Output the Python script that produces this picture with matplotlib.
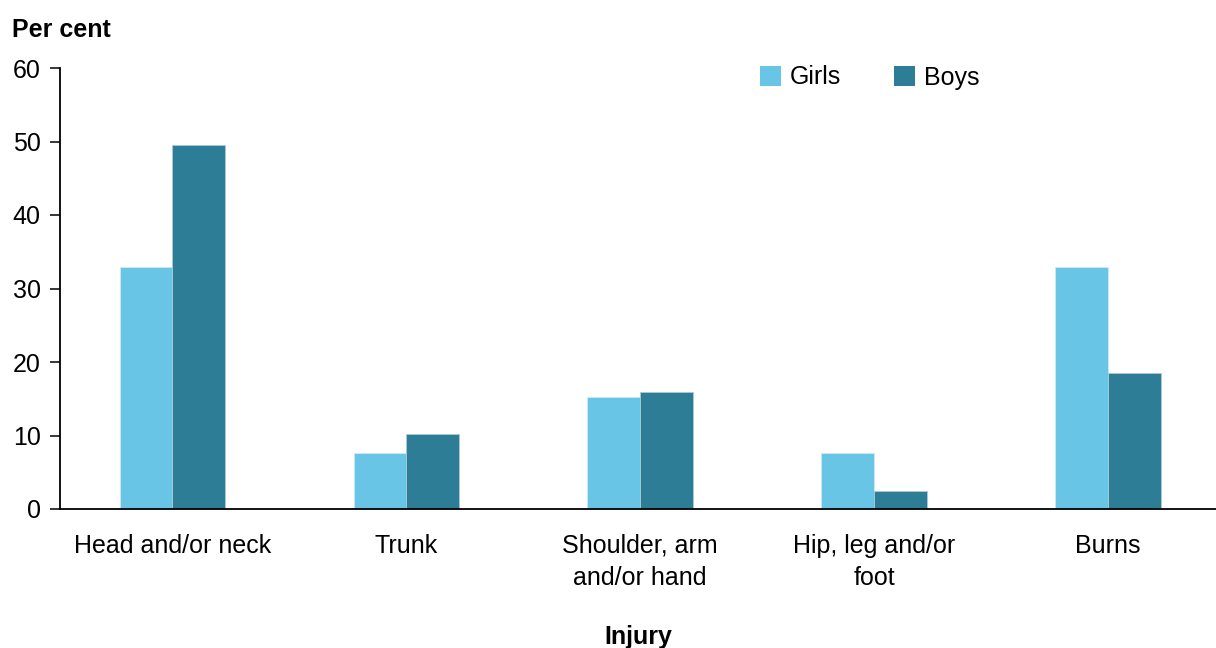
import matplotlib
matplotlib.use("Agg")
import matplotlib.pyplot as plt
import numpy as np
from matplotlib.patches import Patch

plt.rcParams['font.family'] = ['Liberation Sans', 'DejaVu Sans']

categories = ["Head and/or neck", "Trunk", "Shoulder, arm\nand/or hand", "Hip, leg and/or\nfoot", "Burns"]
girls = [32.9, 7.6, 15.2, 7.6, 32.9]
boys = [49.5, 10.2, 15.9, 2.4, 18.5]
series_names = ["Girls", "Boys"]
colors = ["#68C5E6", "#2C7D95"]
yticks = [0, 10, 20, 30, 40, 50, 60]

FS = 18

fig = plt.figure(figsize=(12.16, 6.48), dpi=100)
ax = fig.add_axes([60/1216, 1-509/648, 1-60/1216, (509-68)/648])

x = np.arange(len(categories))
w = 0.226
ax.bar(x - w/2, girls, width=w, color=colors[0], edgecolor="#CDEBF5", linewidth=0.6)
ax.bar(x + w/2, boys, width=w, color=colors[1], edgecolor="#A9CBD6", linewidth=0.6)

ax.set_xlim(-0.481, 4.462)
ax.set_ylim(0, 60)
ax.set_yticks(yticks)
ax.set_yticklabels([str(t) for t in yticks], fontsize=FS)
ax.set_xticks(x)
ax.set_xticklabels(categories, fontsize=FS, linespacing=1.4)
ax.tick_params(axis='x', length=0, pad=18)
ax.tick_params(axis='y', length=7, width=1.1, pad=7)
for s in ["top", "right"]:
    ax.spines[s].set_visible(False)
for s in ["left", "bottom"]:
    ax.spines[s].set_linewidth(1.3)
    ax.spines[s].set_color("black")

fig.text(12/1216, 1-30/648, "Per cent", fontsize=FS, fontweight="bold", va="center", ha="left")
fig.text((60+1216)/2/1216, 1-637/648, "Injury", fontsize=FS, fontweight="bold", va="center", ha="center")

handles = [Patch(facecolor=c, edgecolor="none") for c in colors]
fig.legend(handles, series_names, loc="center left", bbox_to_anchor=(760/1216, 1-77.5/648),
           ncol=2, frameon=False, fontsize=FS, handlelength=0.84, handleheight=0.84,
           handletextpad=0.36, columnspacing=2.1, borderpad=0, borderaxespad=0)

fig.savefig("out.png", dpi=100)
